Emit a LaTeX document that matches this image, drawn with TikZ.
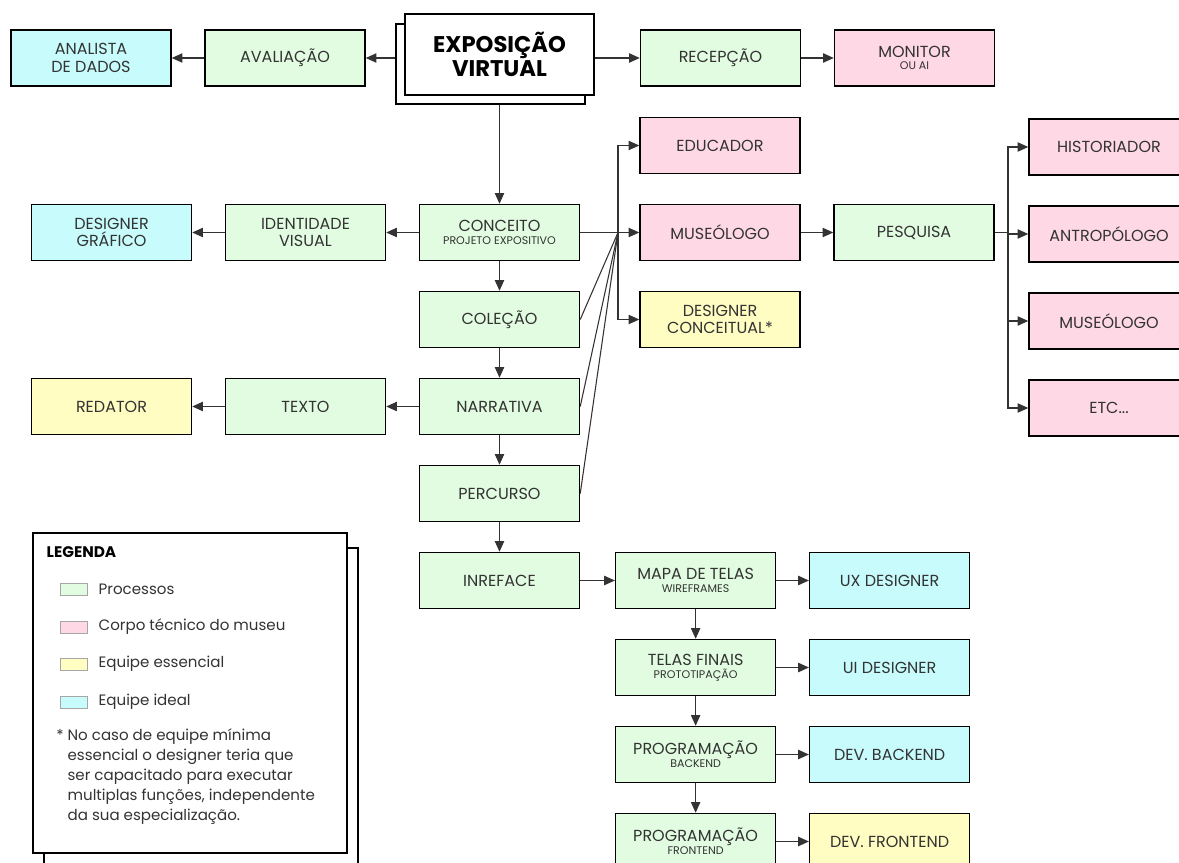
\documentclass[tikz,border=0pt]{standalone}
\usepackage{fontspec}
\setmainfont{Poppins}
\usetikzlibrary{arrows.meta, positioning}

\definecolor{procfill}{HTML}{E1FCE1}
\definecolor{museufill}{HTML}{FFD8E6}
\definecolor{essfill}{HTML}{FFFDC2}
\definecolor{idealfill}{HTML}{C8FBFC}
\definecolor{inkgray}{HTML}{333333}

\tikzset{
  box/.style={draw=black, line width=1.1pt, minimum width=120pt, minimum height=42pt,
    align=center, text=inkgray, inner sep=2pt, font=\fontsize{12}{13}\selectfont},
  proc/.style={box, fill=procfill},
  museu/.style={box, fill=museufill},
  essen/.style={box, fill=essfill},
  ideal/.style={box, fill=idealfill},
  arr/.style={-{Triangle[length=8pt,width=7pt]}, line width=0.8pt, draw=inkgray},
  conn/.style={line width=0.8pt, draw=inkgray},
  swatch/.style={draw=gray!70, line width=0.5pt, minimum width=20pt, minimum height=9pt, inner sep=0pt},
  legtext/.style={anchor=west, text=inkgray, font=\fontsize{11.3}{13}\selectfont},
}
\newcommand{\subtxt}[1]{\\[-3.5pt]{\fontsize{8.3}{9}\selectfont #1}}

\begin{document}
\begin{tikzpicture}[x=0.75pt, y=-0.75pt, node distance=22.15pt and 24.4pt]
\useasboundingbox (0,0) rectangle (1179,863);

% topo
\node (expb) [draw, line width=1.1pt, fill=white, minimum width=141.75pt, minimum height=60pt] at (490.5,64) {};
\node (exp) [draw, line width=1.1pt, fill=white, minimum width=141.75pt, minimum height=60.75pt,
  align=center, font=\bfseries\fontsize{17}{18}\selectfont] at (499.5,54.5) {EXPOSIÇÃO\\VIRTUAL};
\node (aval) [proc] at (285,58) {AVALIAÇÃO};
\node (analista) [ideal, left=of aval] {ANALISTA\\DE DADOS};
\node (recep) [proc] at (720.5,58) {RECEPÇÃO};
\node (monitor) [museu, right=of recep] {MONITOR\subtxt{OU AI}};

% coluna central
\node (conceito) [proc] at (499.5,232.5) {CONCEITO\subtxt{PROJETO EXPOSITIVO}};
\node (colecao) [proc, below=of conceito] {COLEÇÃO};
\node (narrativa) [proc, below=of colecao] {NARRATIVA};
\node (percurso) [proc, below=of narrativa] {PERCURSO};
\node (interface) [proc, below=of percurso] {INREFACE};

\node (identidade) [proc, left=of conceito] {IDENTIDADE\\VISUAL};
\node (dgrafico) [ideal, left=of identidade] {DESIGNER\\GRÁFICO};
\node (texto) [proc, left=of narrativa] {TEXTO};
\node (redator) [essen, left=of texto] {REDATOR};

% equipe do conceito
\node (educador) [museu] at (720,145.5) {EDUCADOR};
\node (museologo) [museu, below=of educador] {MUSEÓLOGO};
\node (dconceitual) [essen, below=of museologo] {DESIGNER\\CONCEITUAL*};
\node (pesquisa) [proc, right=of museologo] {PESQUISA};

\node (historiador) [museu] at (1109,147) {HISTORIADOR};
\node (antropologo) [museu, below=of historiador] {ANTROPÓLOGO};
\node (museologob) [museu, below=of antropologo] {MUSEÓLOGO};
\node (etc) [museu, below=of museologob] {ETC...};

% telas
\node (mapa) [proc, right=26pt of interface] {MAPA DE TELAS\subtxt{WIREFRAMES}};
\node (telas) [proc, below=of mapa] {TELAS FINAIS\subtxt{PROTOTIPAÇÃO}};
\node (backend) [proc, below=of telas] {PROGRAMAÇÃO\subtxt{BACKEND}};
\node (frontend) [proc, below=of backend] {PROGRAMAÇÃO\subtxt{FRONTEND}};
\node (ux) [ideal, right=of mapa] {UX DESIGNER};
\node (ui) [ideal, right=of telas] {UI DESIGNER};
\node (devback) [ideal, right=of backend] {DEV. BACKEND};
\node (devfront) [essen, right=of frontend] {DEV. FRONTEND};

% ligacoes
\draw[arr] (expb.west |- aval.east) -- (aval);
\draw[arr] (aval) -- (analista);
\draw[arr] (exp.east |- recep.west) -- (recep);
\draw[arr] (recep) -- (monitor);
\draw[arr] (conceito |- expb.south) -- (conceito);
\draw[arr] (conceito) -- (identidade);
\draw[arr] (identidade) -- (dgrafico);
\draw[arr] (conceito) -- (colecao);
\draw[arr] (colecao) -- (narrativa);
\draw[arr] (narrativa) -- (percurso);
\draw[arr] (percurso) -- (interface);
\draw[arr] (narrativa) -- (texto);
\draw[arr] (texto) -- (redator);

\coordinate (hub) at (618,232.5);
\draw[conn] (conceito) -- (hub);
\draw[conn] (colecao.east) -- (hub);
\draw[conn] (narrativa.east) -- (hub);
\draw[conn] (percurso.east) -- (hub);
\draw[arr] (hub) -- (museologo);
\draw[arr] (hub) |- (educador);
\draw[arr] (hub) |- (dconceitual);
\draw[arr] (museologo) -- (pesquisa);

\coordinate (hubb) at (1008,232.5);
\draw[conn] (pesquisa) -- (hubb);
\draw[arr] (hubb) |- (historiador);
\draw[arr] (hubb) |- (antropologo);
\draw[arr] (hubb) |- (museologob);
\draw[arr] (hubb) |- (etc);

\draw[arr] (interface) -- (mapa);
\draw[arr] (mapa) -- (ux);
\draw[arr] (mapa) -- (telas);
\draw[arr] (telas) -- (ui);
\draw[arr] (telas) -- (backend);
\draw[arr] (backend) -- (devback);
\draw[arr] (backend) -- (frontend);
\draw[arr] (frontend) -- (devfront);

% legenda
\node (legb) [draw, line width=1.1pt, fill=white, minimum width=235.5pt, minimum height=240pt] at (201,708) {};
\node (leg) [draw, line width=1.1pt, fill=white, minimum width=235.5pt, minimum height=240pt] at (190,693) {};
\node (legtitle) [anchor=west, font=\bfseries\fontsize{11.5}{13}\selectfont, text=black] at (42,552) {LEGENDA};
\node (sw1) [swatch, fill=procfill] at (73.5,589) {};
\node (sw2) [swatch, fill=museufill] at (73.5,627) {};
\node (sw3) [swatch, fill=essfill] at (73.5,664) {};
\node (sw4) [swatch, fill=idealfill] at (73.5,702) {};
\node (lt1) [legtext] at (94,589) {Processos};
\node (lt2) [legtext] at (94,627) {Corpo técnico do museu};
\node (lt3) [legtext] at (94,664) {Equipe essencial};
\node (lt4) [legtext] at (94,702) {Equipe ideal};
\node (nota) [anchor=north west, align=left, text=inkgray, font=\fontsize{11.3}{15}\selectfont, inner sep=0pt] at (56,728)
  {* No caso de equipe mínima\\
  \phantom{* }essencial o designer teria que\\
  \phantom{* }ser capacitado para executar\\
  \phantom{* }multiplas funções, independente\\
  \phantom{* }da sua especialização.};
\end{tikzpicture}
\end{document}
